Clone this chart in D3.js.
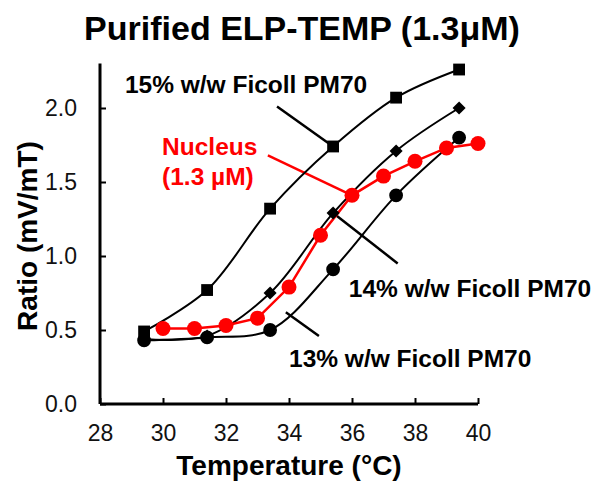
<!DOCTYPE html>
<html>
<head>
<meta charset="utf-8">
<script src="https://cdn.jsdelivr.net/npm/d3@7"></script>
<style>
  body { margin: 0; background: #fff; }
  svg { font-family: "Liberation Sans", Arial, sans-serif; }
</style>
</head>
<body>
<svg id="chart" width="601" height="481"></svg>
<script>
// temperatures (°C) for the Ficoll series
const ficollTemps = [29.4, 31.4, 33.4, 35.4, 37.4, 39.4];
const ficoll15 = [0.49, 0.77, 1.32, 1.74, 2.07, 2.26];
const ficoll14 = [0.44, 0.46, 0.75, 1.29, 1.71, 2.00];
const ficoll13 = [0.43, 0.45, 0.50, 0.91, 1.41, 1.80];

// nucleus measurement
const nucleusTemps = [30, 31, 32, 33, 34, 35, 36, 37, 38, 39, 40];
const nucleusVals = [0.51, 0.51, 0.53, 0.58, 0.79, 1.14, 1.41, 1.54, 1.64, 1.73, 1.76];

const xTicks = [28, 30, 32, 34, 36, 38, 40];
const yTicks = [0, 0.5, 1.0, 1.5, 2.0];

// callout labels: text lines, anchor (data units) and pointer line (data units)
const callouts = [
  { lines: ["15% w/w Ficoll PM70"], at: [28.79, 2.10], color: "#000", from: [33.62, 2.01], to: [35.4, 1.74] },
  { lines: ["Nucleus", "(1.3 µM)"], at: [29.97, 1.68], color: "#f00", from: [33.33, 1.68], to: [36.0, 1.41] },
  { lines: ["14% w/w Ficoll PM70"], at: [35.9, 0.72], color: "#000", from: [35.4, 1.29], to: [37.45, 0.95] },
  { lines: ["13% w/w Ficoll PM70"], at: [34.0, 0.25], color: "#000", from: [33.9, 0.62], to: [34.95, 0.46] }
];

const svg = d3.select("#chart");

const x = d3.scaleLinear().domain([28, 40]).range([100, 478]);
const y = d3.scaleLinear().domain([0, 2.3]).range([404, 63.6]);

// title
svg.append("text")
  .attr("x", 302).attr("y", 40)
  .attr("text-anchor", "middle")
  .attr("font-size", "34px").attr("font-weight", "bold")
  .text("Purified ELP-TEMP (1.3μM)");

// axes
const xAxis = svg.append("g")
  .attr("transform", "translate(0,404)")
  .call(d3.axisBottom(x).tickValues(xTicks).tickSize(-6).tickPadding(21).tickFormat(d3.format("d")));
const yAxis = svg.append("g")
  .attr("transform", "translate(100,0)")
  .call(d3.axisLeft(y).tickValues(yTicks).tickSize(-6).tickPadding(23).tickFormat(d3.format(".1f")));

[xAxis, yAxis].forEach(ax => {
  ax.select(".domain").attr("stroke", "#000").attr("stroke-width", 3)
    .attr("d", ax === xAxis ? "M100,0H478" : "M0,63.6V404");
  ax.selectAll(".tick line").attr("stroke", "#000").attr("stroke-width", 2);
  ax.selectAll(".tick text").attr("font-size", "23px").attr("fill", "#111")
    .style("font-family", "'Liberation Sans', Arial, sans-serif");
});

// axis titles
svg.append("text")
  .attr("x", 289).attr("y", 475)
  .attr("text-anchor", "middle")
  .attr("font-size", "28px").attr("font-weight", "bold")
  .text("Temperature (°C)");
svg.append("text")
  .attr("transform", "translate(37,236) rotate(-90)")
  .attr("text-anchor", "middle")
  .attr("font-size", "28px").attr("font-weight", "bold")
  .text("Ratio (mV/mT)");

// callout pointers
callouts.forEach(c => {
  svg.append("line")
    .attr("x1", x(c.from[0])).attr("y1", y(c.from[1]))
    .attr("x2", x(c.to[0])).attr("y2", y(c.to[1]))
    .attr("stroke", c.color).attr("stroke-width", 2.5);
});

// fitted black curves
const curve = d3.line()
  .x(d => x(d[0])).y(d => y(d[1]))
  .curve(d3.curveCatmullRom.alpha(0.5));

const ficollSeries = [
  { vals: ficoll15, shape: d3.symbolSquare, size: 140, rot: 0 },
  { vals: ficoll14, shape: d3.symbolSquare, size: 85, rot: 45 },
  { vals: ficoll13, shape: d3.symbolCircle, size: 150, rot: 0 }
];

ficollSeries.forEach(s => {
  const pts = ficollTemps.map((t, i) => [t, s.vals[i]]);
  svg.append("path")
    .attr("d", curve(pts))
    .attr("fill", "none").attr("stroke", "#000").attr("stroke-width", 2);
});

// nucleus line
const nucPts = nucleusTemps.map((t, i) => [t, nucleusVals[i]]);
svg.append("path")
  .attr("d", d3.line().x(d => x(d[0])).y(d => y(d[1]))(nucPts))
  .attr("fill", "none").attr("stroke", "#f00").attr("stroke-width", 2.5);

// markers
ficollSeries.forEach(s => {
  svg.append("g").selectAll("path")
    .data(ficollTemps.map((t, i) => [t, s.vals[i]]))
    .enter().append("path")
    .attr("transform", d => `translate(${x(d[0])},${y(d[1])}) rotate(${s.rot})`)
    .attr("d", d3.symbol().type(s.shape).size(s.size))
    .attr("fill", "#000");
});

svg.append("g").selectAll("circle")
  .data(nucPts)
  .enter().append("circle")
  .attr("cx", d => x(d[0])).attr("cy", d => y(d[1]))
  .attr("r", 7.5)
  .attr("fill", "#f00");

// callout text
callouts.forEach(c => {
  c.lines.forEach((ln, i) => {
    svg.append("text")
      .attr("x", x(c.at[0])).attr("y", y(c.at[1]) + i * 30)
      .attr("font-size", "24.5px").attr("font-weight", "bold")
      .attr("fill", c.color)
      .text(ln);
  });
});
</script>
</body>
</html>
